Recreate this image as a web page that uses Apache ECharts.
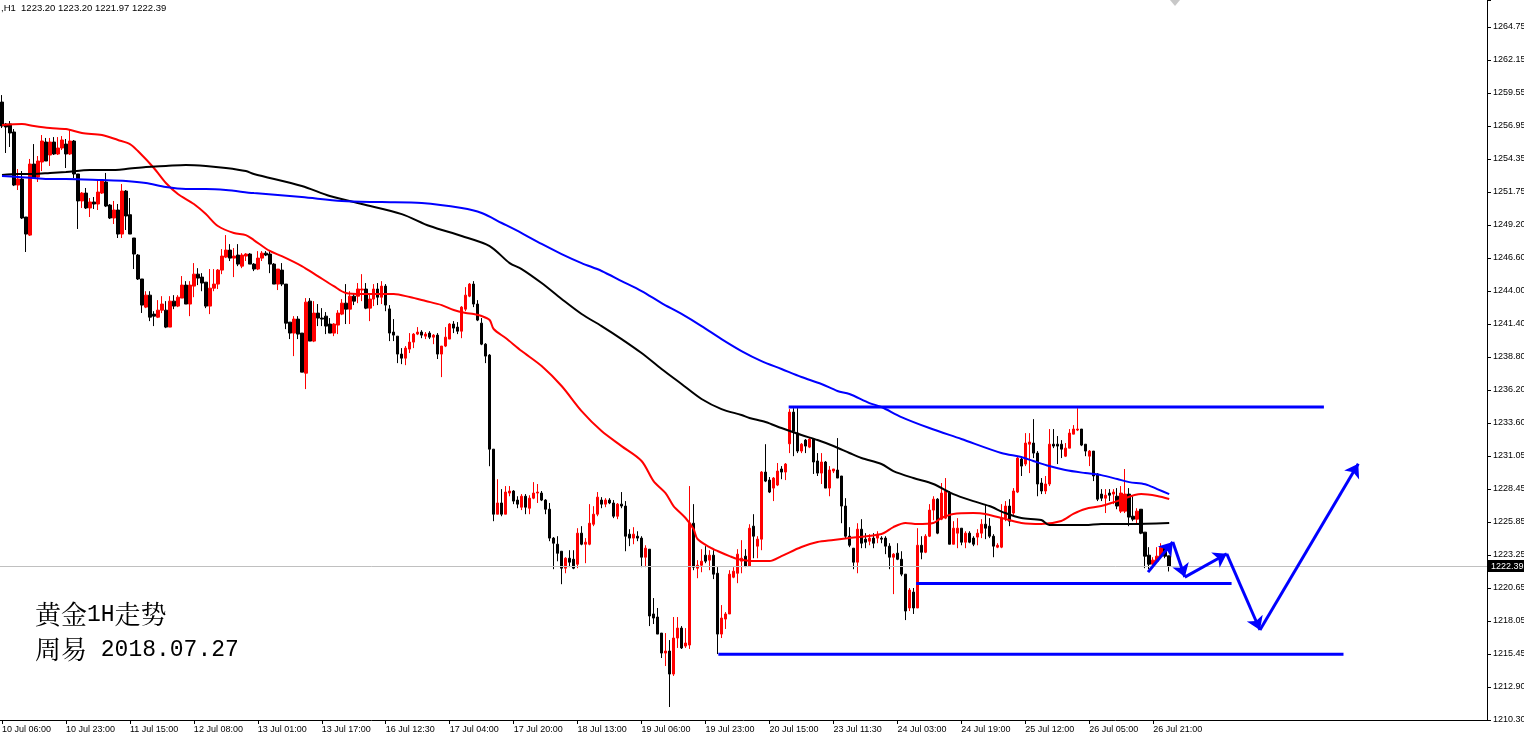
<!DOCTYPE html>
<html><head><meta charset="utf-8">
<script src="https://cdn.jsdelivr.net/npm/echarts@6/dist/echarts.min.js"></script>
<style>html,body{margin:0;padding:0;background:#fff}#c{width:1524px;height:744px}</style>
</head><body><div id="c"></div>
<script>
// ---- data ----
const header = ",H1  1223.20 1223.20 1221.97 1222.39";
const titleLines = ["黄金1H走势", "周易 2018.07.27"];
const xTickLabels = ["10 Jul 06:00","10 Jul 23:00","11 Jul 15:00","12 Jul 08:00","13 Jul 01:00","13 Jul 17:00","16 Jul 12:30","17 Jul 04:00","17 Jul 20:00","18 Jul 13:00","19 Jul 06:00","19 Jul 23:00","20 Jul 15:00","23 Jul 11:30","24 Jul 03:00","24 Jul 19:00","25 Jul 12:00","26 Jul 05:00","26 Jul 21:00"];
const barsPerLabel = 16;
const totalSlots = 372; // bars incl. empty right margin
const yTickLabels = ["1210.30","1212.90","1215.45","1218.05","1220.65","1223.25","1225.85","1228.45","1231.05","1233.60","1236.20","1238.80","1241.40","1244.00","1246.60","1249.20","1251.75","1254.35","1256.95","1259.55","1262.15","1264.75"];
const Y_MIN = 1210.30, Y_MAX = 1266.87, Y_STEP = 54.45/21;
const lastPrice = 1222.39;
// candles: [open, close, low, high]
const candles = [
[1258.85,1256.97,1256.81,1259.40],[1257.13,1256.89,1254.85,1257.20],[1257.13,1256.42,1255.32,1257.36],[1256.50,1252.33,1252.25,1256.73],
[1252.33,1252.80,1251.94,1253.59],[1252.80,1249.74,1249.66,1253.43],[1249.82,1248.48,1247.07,1249.82],[1248.40,1253.98,1248.33,1254.38],
[1253.98,1252.88,1252.88,1255.55],[1252.96,1254.22,1252.57,1254.61],[1254.14,1255.79,1253.43,1256.26],[1255.71,1254.22,1254.22,1256.03],
[1254.69,1255.71,1253.83,1256.03],[1255.71,1254.77,1254.69,1256.10],[1254.77,1255.24,1254.69,1256.10],[1255.24,1255.87,1255.08,1256.18],
[1255.55,1254.77,1253.67,1255.95],[1254.77,1255.79,1254.69,1256.73],[1255.79,1253.20,1252.88,1255.87],[1253.20,1251.08,1248.88,1253.20],
[1251.08,1251.70,1250.53,1251.78],[1251.70,1250.53,1250.45,1252.10],[1250.53,1251.00,1249.82,1251.31],[1251.00,1250.84,1250.45,1251.39],
[1250.84,1251.78,1250.37,1252.73],[1251.70,1252.65,1251.63,1252.73],[1252.57,1250.68,1250.60,1253.28],[1250.76,1249.74,1249.66,1250.84],
[1249.74,1250.37,1249.27,1251.08],[1250.37,1248.48,1248.17,1250.84],[1248.48,1251.86,1248.17,1252.41],[1251.86,1249.90,1248.80,1251.94],
[1250.00,1248.48,1248.48,1251.31],[1248.17,1246.91,1245.73,1248.17],[1246.83,1244.95,1244.87,1246.91],[1244.95,1242.90,1242.28,1244.95],
[1242.74,1243.68,1242.66,1243.99],[1243.68,1241.95,1241.64,1243.99],[1242.19,1242.03,1241.25,1242.42],[1241.95,1242.50,1241.88,1243.29],
[1242.50,1242.98,1242.27,1243.60],[1242.50,1241.17,1241.09,1243.21],[1241.17,1243.21,1241.17,1243.60],[1243.21,1242.82,1242.58,1243.68],
[1242.82,1243.52,1242.74,1243.68],[1243.45,1244.47,1243.45,1245.18],[1244.47,1242.98,1242.98,1244.78],[1242.98,1244.47,1242.03,1244.78],
[1244.39,1245.33,1243.52,1246.20],[1245.33,1245.02,1244.47,1245.80],[1245.10,1244.63,1243.99,1245.41],[1244.70,1242.82,1242.66,1244.70],
[1242.82,1244.23,1242.19,1245.73],[1244.23,1244.55,1243.99,1245.73],[1244.55,1245.65,1244.16,1245.73],[1245.65,1246.75,1245.33,1247.30],
[1246.67,1247.22,1246.59,1248.40],[1247.22,1246.59,1246.36,1247.69],[1246.59,1246.75,1245.10,1247.38],[1246.83,1246.12,1245.96,1247.69],
[1245.96,1246.83,1245.80,1246.98],[1246.75,1246.91,1246.36,1246.98],[1246.91,1246.12,1246.12,1246.98],[1246.12,1245.73,1245.57,1246.20],
[1245.73,1246.59,1245.65,1247.14],[1246.59,1246.98,1246.36,1247.14],[1246.98,1246.83,1246.75,1247.14],[1246.91,1246.12,1245.41,1247.14],
[1246.12,1244.55,1244.55,1246.20],[1244.55,1245.73,1244.08,1245.73],[1245.65,1244.55,1244.39,1246.20],[1244.55,1241.48,1241.01,1244.55],
[1241.56,1240.70,1240.23,1241.56],[1240.70,1241.80,1238.89,1242.03],[1241.80,1240.62,1240.23,1242.03],[1240.70,1237.63,1237.63,1240.70],
[1237.55,1243.13,1236.30,1243.45],[1243.21,1240.07,1240.07,1243.45],[1240.07,1242.27,1239.99,1243.21],[1242.27,1241.88,1241.25,1242.98],
[1241.88,1241.80,1241.25,1242.66],[1242.03,1241.25,1240.62,1242.35],[1241.41,1240.70,1240.70,1241.88],[1240.70,1241.41,1240.46,1241.48],
[1241.33,1242.27,1240.62,1242.50],[1242.19,1243.05,1242.11,1243.37],[1243.05,1242.58,1241.41,1244.55],[1242.58,1243.60,1241.41,1243.99],
[1243.60,1243.21,1242.90,1243.84],[1243.60,1244.16,1243.05,1244.63],[1244.08,1244.16,1243.21,1245.33],[1244.16,1242.66,1242.58,1244.63],
[1242.66,1243.37,1241.64,1243.76],[1243.37,1244.16,1242.82,1244.55],[1244.16,1243.52,1242.90,1244.63],[1243.52,1244.39,1242.98,1244.78],
[1244.39,1242.90,1242.42,1244.55],[1242.60,1240.70,1240.07,1242.90],[1240.78,1240.54,1240.07,1241.80],[1240.46,1239.05,1238.34,1240.46],
[1239.05,1238.73,1238.26,1239.52],[1238.73,1239.52,1238.18,1239.68],[1239.44,1239.99,1239.13,1240.70],[1239.99,1240.62,1239.52,1240.70],
[1240.62,1240.78,1240.54,1241.17],[1240.78,1240.54,1240.30,1240.93],[1240.46,1240.62,1240.23,1240.78],[1240.70,1240.38,1240.23,1240.85],
[1240.38,1240.54,1239.83,1240.62],[1240.54,1239.05,1238.66,1240.70],[1239.05,1239.68,1237.24,1239.68],[1239.68,1240.38,1239.60,1241.17],
[1240.23,1241.41,1240.23,1241.48],[1241.41,1241.09,1240.70,1241.64],[1241.17,1240.85,1240.62,1241.56],[1240.85,1242.74,1240.30,1242.82],
[1242.58,1243.68,1242.42,1244.31],[1243.60,1244.55,1243.52,1244.63],[1244.55,1242.98,1242.74,1244.78],[1242.98,1241.72,1241.64,1243.29],
[1241.48,1239.83,1239.75,1241.88],[1239.83,1238.89,1238.34,1239.91],[1238.97,1231.58,1230.24,1239.05],[1231.58,1226.47,1225.92,1231.58],
[1226.47,1227.35,1226.47,1229.22],[1227.35,1226.47,1226.31,1228.44],[1226.47,1228.21,1226.47,1228.68],[1228.13,1228.29,1227.88,1228.68],
[1228.29,1227.50,1227.26,1228.36],[1227.58,1227.26,1226.94,1227.88],[1227.02,1227.88,1226.79,1228.05],[1227.88,1227.02,1226.47,1228.05],
[1226.94,1227.73,1226.47,1227.96],[1227.73,1228.13,1227.65,1228.99],[1228.13,1228.21,1227.35,1228.84],[1228.13,1227.58,1227.50,1228.29],
[1227.58,1226.86,1226.47,1227.65],[1226.86,1224.59,1224.35,1227.35],[1224.59,1224.19,1222.15,1224.67],[1224.11,1223.40,1222.77,1224.74],
[1223.56,1222.23,1220.97,1223.56],[1222.23,1223.01,1221.83,1223.09],[1223.01,1222.70,1222.31,1223.64],[1222.93,1222.23,1222.15,1223.64],
[1222.54,1224.98,1222.23,1225.37],[1224.98,1224.11,1224.03,1225.53],[1224.11,1224.27,1222.62,1224.59],[1224.11,1225.76,1224.03,1227.26],
[1225.68,1226.47,1225.53,1227.10],[1226.47,1227.81,1226.31,1228.21],[1227.58,1227.26,1226.94,1227.81],[1227.26,1227.58,1227.02,1227.73],
[1227.58,1227.35,1227.26,1227.73],[1227.35,1226.31,1226.16,1227.58],[1226.31,1227.26,1226.08,1227.35],[1227.26,1227.11,1226.94,1228.21],
[1227.11,1224.74,1223.56,1227.50],[1224.90,1224.59,1223.96,1225.29],[1224.59,1224.90,1224.11,1225.45],[1224.74,1224.59,1224.35,1225.13],
[1224.59,1223.09,1222.31,1224.74],[1223.09,1223.80,1222.31,1224.03],[1223.72,1218.47,1217.68,1223.72],[1218.63,1218.31,1217.84,1219.88],
[1218.39,1217.05,1217.05,1219.10],[1217.13,1215.56,1215.17,1217.13],[1215.56,1215.72,1214.54,1217.13],[1215.72,1213.91,1211.32,1216.58],
[1213.91,1216.74,1213.76,1218.39],[1216.74,1217.52,1215.96,1218.39],[1217.52,1215.96,1215.88,1217.68],[1216.11,1216.35,1215.96,1217.52],
[1216.19,1225.76,1215.88,1228.68],[1225.76,1222.31,1222.07,1227.26],[1222.23,1222.46,1221.44,1222.86],[1222.46,1222.78,1221.91,1223.72],
[1223.25,1222.78,1222.62,1223.96],[1222.86,1223.25,1222.07,1223.64],[1223.25,1221.76,1221.37,1223.64],[1221.83,1217.05,1215.48,1222.31],
[1217.05,1218.31,1216.74,1219.33],[1218.23,1218.63,1217.45,1218.78],[1218.63,1221.76,1218.63,1222.07],[1221.52,1221.99,1221.44,1222.31],
[1221.83,1223.33,1221.05,1223.72],[1222.78,1223.01,1221.83,1224.43],[1223.17,1222.39,1222.31,1223.72],[1222.39,1225.37,1222.39,1225.68],
[1225.53,1224.74,1223.01,1226.47],[1223.96,1224.51,1223.01,1224.74],[1224.51,1229.78,1223.64,1229.86],[1229.78,1229.07,1228.99,1231.97],
[1229.15,1228.21,1228.13,1229.39],[1228.52,1229.31,1227.50,1229.39],[1228.76,1229.86,1228.68,1230.49],[1230.02,1229.78,1229.22,1230.25],
[1229.78,1230.41,1229.15,1230.49],[1232.00,1234.49,1231.27,1234.73],[1234.49,1232.98,1231.03,1234.80],[1232.84,1231.43,1231.27,1234.80],
[1231.43,1231.97,1231.27,1232.06],[1232.29,1231.82,1231.27,1232.37],[1231.74,1232.37,1231.66,1232.45],[1232.37,1230.57,1229.63,1232.45],
[1230.65,1229.70,1229.47,1231.27],[1229.70,1230.57,1228.84,1231.27],[1230.57,1228.52,1228.52,1230.65],[1228.52,1229.94,1227.88,1230.25],
[1229.86,1230.02,1229.70,1230.02],[1229.94,1229.31,1229.31,1232.45],[1229.47,1227.11,1225.76,1229.47],[1227.11,1224.74,1224.59,1227.73],
[1224.74,1224.03,1223.88,1225.45],[1223.80,1222.70,1222.15,1223.80],[1222.70,1225.29,1221.83,1225.76],[1225.29,1224.19,1223.80,1226.08],
[1224.51,1224.27,1223.80,1224.98],[1224.35,1224.59,1224.03,1224.90],[1224.59,1224.19,1223.80,1224.98],[1224.59,1224.90,1224.19,1225.13],
[1224.59,1224.51,1224.19,1224.74],[1224.59,1223.96,1223.33,1224.74],[1223.96,1223.09,1222.15,1224.19],[1223.09,1223.33,1220.19,1223.41],
[1223.41,1222.93,1222.86,1224.19],[1222.93,1221.76,1221.60,1223.56],[1221.76,1218.86,1218.15,1221.76],[1219.10,1220.51,1218.86,1220.67],
[1220.35,1219.10,1218.63,1220.67],[1219.10,1224.03,1219.10,1225.37],[1224.03,1223.48,1222.93,1224.74],[1223.48,1224.74,1223.41,1224.90],
[1224.74,1226.79,1224.67,1227.26],[1226.79,1227.65,1226.00,1227.88],[1227.65,1224.98,1224.90,1227.73],[1226.08,1228.13,1226.00,1228.92],
[1226.16,1228.29,1226.08,1229.31],[1228.13,1224.11,1224.11,1228.29],[1224.11,1225.37,1224.11,1225.92],[1224.98,1225.37,1223.80,1226.16],
[1225.37,1224.27,1224.03,1225.37],[1224.27,1224.98,1223.80,1225.13],[1224.98,1224.27,1224.19,1225.13],[1224.59,1224.11,1223.96,1224.74],
[1224.67,1224.98,1224.03,1225.29],[1224.98,1225.68,1224.59,1226.08],[1225.68,1225.37,1224.51,1227.26],[1225.53,1224.74,1224.59,1226.16],
[1224.74,1223.96,1223.09,1224.90],[1223.88,1224.03,1223.80,1224.19],[1223.88,1226.16,1223.80,1227.26],[1226.16,1227.11,1225.92,1227.50],
[1227.11,1225.92,1225.53,1227.65],[1226.56,1228.29,1226.31,1228.52],[1228.21,1230.88,1228.13,1231.03],[1230.80,1230.25,1229.47,1231.03],
[1230.41,1232.06,1230.25,1232.84],[1231.97,1232.14,1229.70,1232.84],[1232.06,1231.27,1230.88,1233.94],[1231.27,1228.84,1227.88,1231.43],
[1228.92,1228.29,1228.05,1229.31],[1228.29,1228.84,1228.05,1229.47],[1228.84,1231.97,1228.68,1233.16],[1231.97,1231.82,1231.66,1233.16],
[1231.97,1231.82,1230.41,1232.61],[1231.97,1231.58,1230.88,1232.29],[1231.03,1231.66,1230.96,1232.06],[1231.66,1232.84,1231.66,1233.16],
[1232.76,1233.16,1232.76,1233.47],[1233.08,1233.16,1233.00,1234.80],[1233.16,1231.90,1231.82,1233.16],[1231.97,1231.43,1231.03,1231.97],
[1231.03,1231.43,1230.25,1231.51],[1231.43,1229.47,1229.07,1231.43],[1229.63,1227.65,1227.50,1229.70],[1228.05,1227.73,1227.50,1228.44],
[1227.73,1227.96,1226.56,1228.44],[1228.13,1227.96,1227.50,1228.44],[1228.05,1228.21,1227.26,1228.44],[1227.88,1227.11,1226.86,1228.52],
[1226.71,1228.13,1226.56,1228.68],[1226.71,1228.05,1226.56,1230.02],[1228.05,1226.24,1225.53,1228.52],[1226.31,1226.08,1225.92,1227.88],
[1226.08,1226.71,1225.68,1226.94],[1226.86,1224.98,1224.90,1226.86],[1225.06,1223.17,1222.23,1225.06],[1223.25,1222.54,1222.15,1223.88],
[1222.54,1222.86,1222.39,1223.09],[1222.78,1223.17,1222.70,1223.88],[1223.17,1223.88,1223.01,1224.19],[1223.80,1223.17,1223.01,1224.03],
[1223.20,1222.39,1221.97,1223.20]
];
// moving averages sampled at [bar index, price]
const redMA = [[0,1257.05],[5,1257.13],[8,1256.97],[12,1256.81],[16,1256.73],[20,1256.42],[25,1256.26],[29,1255.87],[32,1255.55],[34,1255.00],[38,1253.67],[41,1252.49],[44,1251.63],[48,1250.84],[51,1250.05],[54,1249.11],[58,1248.56],[61,1248.40],[63,1248.01],[67,1247.15],[70,1246.75],[75,1245.97],[79,1245.18],[83,1244.39],[86,1243.85],[90,1243.77],[95,1243.77],[98,1243.77],[102,1243.53],[106,1243.22],[110,1242.90],[113,1242.51],[116,1242.28],[118,1242.20],[120,1242.04],[122,1241.73],[123,1241.02],[126,1240.31],[130,1239.29],[135,1238.11],[140,1236.54],[145,1234.57],[150,1233.00],[155,1231.82],[160,1230.65],[163,1229.07],[166,1228.13],[168,1227.11],[171,1226.17],[173,1225.30],[174,1224.52],[177,1223.89],[179,1223.58],[182,1223.18],[184,1222.95],[188,1222.79],[192,1222.79],[195,1223.18],[200,1223.89],[204,1224.28],[208,1224.44],[212,1224.60],[220,1224.91],[223,1225.46],[226,1225.78],[229,1225.70],[233,1225.78],[235,1226.17],[238,1226.49],[243,1226.56],[246,1226.49],[251,1226.09],[255,1225.78],[260,1225.70],[265,1225.94],[268,1226.49],[271,1226.88],[275,1227.11],[279,1227.50],[285,1228.05],[289,1227.90],[292,1227.66]];
const blackMA = [[0,1253.12],[4,1253.20],[8,1253.20],[12,1253.28],[16,1253.36],[22,1253.51],[27,1253.51],[31,1253.59],[36,1253.75],[41,1253.83],[46,1253.91],[51,1253.83],[56,1253.67],[61,1253.43],[63,1253.20],[75,1252.26],[82,1251.47],[90,1250.84],[100,1250.05],[107,1249.11],[115,1248.33],[122,1247.54],[127,1246.20],[130,1245.73],[135,1244.63],[140,1243.38],[145,1242.20],[150,1241.25],[155,1240.23],[160,1239.13],[165,1237.88],[170,1236.70],[175,1235.52],[180,1234.73],[185,1234.26],[187,1234.03],[191,1233.71],[195,1233.24],[200,1232.69],[204,1232.30],[208,1231.83],[212,1231.28],[215,1230.88],[220,1230.41],[223,1229.86],[228,1229.31],[233,1228.84],[238,1228.05],[243,1227.50],[247,1227.11],[251,1226.56],[255,1226.17],[260,1226.01],[262,1225.62],[271,1225.62],[275,1225.70],[282,1225.70],[292,1225.78]];
const blueMA = [[0,1253.04],[4,1252.96],[8,1252.88],[12,1252.80],[16,1252.80],[25,1252.72],[31,1252.65],[36,1252.49],[41,1252.17],[46,1252.02],[51,1252.02],[56,1251.94],[63,1251.70],[75,1251.39],[85,1251.07],[95,1250.99],[105,1250.92],[115,1250.52],[120,1250.13],[125,1249.35],[130,1248.56],[135,1247.70],[140,1246.91],[145,1246.20],[150,1245.58],[155,1244.79],[160,1244.00],[165,1243.06],[170,1242.20],[175,1241.25],[180,1240.23],[185,1239.29],[190,1238.50],[195,1237.88],[200,1237.25],[205,1236.70],[209,1236.15],[212,1235.91],[217,1235.20],[220,1234.89],[225,1234.10],[232,1233.24],[240,1232.38],[250,1231.28],[255,1230.96],[258,1230.65],[262,1230.25],[266,1229.94],[271,1229.70],[275,1229.54],[279,1229.23],[282,1228.99],[286,1228.83],[289,1228.44],[292,1228.05]];
// drawn levels and projected path [bar index, price]
const resistanceLine = [[196.8,1234.89],[330.7,1234.89]];
const supportLine1 = [[228.7,1221.03],[307.6,1221.03]];
const supportLine2 = [[179.2,1215.46],[335.6,1215.46]];
const arrowPath = [[286.7,1221.92],[292.9,1224.28],[295.9,1221.53],[306.4,1223.36],[314.7,1217.37],[339.3,1230.43]];

// ---- chart ----
const categories = Array.from({length: totalSlots}, (_, i) => String(i));
const isLabelBar = (i) => i % barsPerLabel === 0 && (i / barsPerLabel) < xTickLabels.length;
const BLUE = '#0000ff';
// rich title: CJK runs in a CJK serif font, latin/digit runs in a monospaced font
const toRich = (s) => s.replace(/([\u4e00-\u9fff]+)|([^\u4e00-\u9fff]+)/g, (m, c, n) => c ? '{c|' + c + '}' : '{n|' + n + '}');
const segs = [];
for (let k = 0; k < arrowPath.length - 1; k++) segs.push({coords: [arrowPath[k], arrowPath[k+1]]});
const levelSeries = [resistanceLine, supportLine1, supportLine2].map(d => ({
  type: 'line', xAxisIndex: 1, data: d, symbol: 'none', silent: true, z: 6,
  lineStyle: {color: BLUE, width: 3}
}));
const maSeries = [[redMA,'#ff0000'],[blackMA,'#000000'],[blueMA,BLUE]].map(([d,c]) => ({
  type: 'line', xAxisIndex: 1, data: d, symbol: 'none', smooth: 0.3, silent: true, z: 4,
  lineStyle: {color: c, width: 2}
}));
const chart = echarts.init(document.getElementById('c'), null, {renderer: 'canvas'});
chart.setOption({
  animation: false,
  backgroundColor: '#ffffff',
  grid: {left: 0, right: 37, top: 0, bottom: 24, containLabel: false, outerBoundsMode: 'none'},
  title: {
    text: titleLines.map(toRich).join('\n'), left: 35, top: 597, padding: 0,
    textStyle: {
      fontSize: 26, fontWeight: 'normal', color: '#000', lineHeight: 35,
      rich: {
        c: {fontFamily: "'Noto Serif CJK SC', 'Noto Sans CJK SC'", fontSize: 26, fontWeight: 'normal', color: '#000', lineHeight: 35},
        n: {fontFamily: "'Liberation Mono'", fontSize: 23, fontWeight: 'normal', color: '#000', lineHeight: 35}
      }
    }
  },
  graphic: [
    {type: 'text', left: 1, top: 3, style: {text: header, fontFamily: 'Liberation Sans', fontSize: 9.5, fill: '#000'}},
    {type: 'polygon', shape: {points: [[1170,0],[1180,0],[1175,6]]}, style: {fill: '#c8c8c8'}}
  ],
  xAxis: [{
    type: 'category', data: categories, boundaryGap: true,
    axisLine: {show: true, onZero: false, lineStyle: {color: '#000', width: 1}},
    axisTick: {show: true, alignWithLabel: true, interval: (i) => isLabelBar(i), length: 4, lineStyle: {color: '#000'}},
    axisLabel: {interval: (i) => isLabelBar(i), formatter: (v, i) => isLabelBar(i) ? xTickLabels[i / barsPerLabel] : '',
      align: 'left', margin: 5, fontSize: 9, fontFamily: 'Liberation Sans', color: '#000'},
    splitLine: {show: false}
  }, {
    type: 'value', min: -0.5, max: totalSlots - 0.5, show: false
  }],
  yAxis: {
    type: 'value', position: 'right', min: Y_MIN, max: Y_MAX, interval: Y_STEP, scale: true,
    axisLine: {show: true, onZero: false, lineStyle: {color: '#000', width: 1}},
    axisTick: {show: true, length: 4, lineStyle: {color: '#000'}},
    axisLabel: {
      fontSize: 9, fontFamily: 'Liberation Sans', color: '#000', margin: 6,
      formatter: (v) => {
        const k = Math.round((v - Y_MIN) / Y_STEP);
        return (Math.abs(v - (Y_MIN + k * Y_STEP)) < 0.01 && k >= 0 && k < yTickLabels.length) ? yTickLabels[k] : '';
      }
    },
    splitLine: {show: false}
  },
  series: [
    ...maSeries,
    {
      type: 'candlestick', data: candles, barWidth: 3, z: 3,
      itemStyle: {color: '#ff0000', color0: '#000000', borderColor: '#ff0000', borderColor0: '#000000', borderWidth: 1},
      markLine: {
        silent: true, symbol: ['none','none'], animation: false,
        lineStyle: {color: '#c0c0c0', width: 1, type: 'solid'},
        label: {show: true, position: 'end', formatter: lastPrice.toFixed(2), color: '#fff', backgroundColor: '#000',
          fontSize: 9, fontFamily: 'Liberation Sans', padding: [2, 3, 1, 3], distance: 1},
        data: [{yAxis: lastPrice}]
      }
    },
    ...levelSeries,
    {
      type: 'lines', coordinateSystem: 'cartesian2d', xAxisIndex: 1, yAxisIndex: 0, silent: true, z: 7,
      symbol: ['none', 'arrow'], symbolSize: 13,
      lineStyle: {color: BLUE, width: 3, opacity: 1, curveness: 0},
      data: segs
    }
  ]
});
</script>
</body></html>
